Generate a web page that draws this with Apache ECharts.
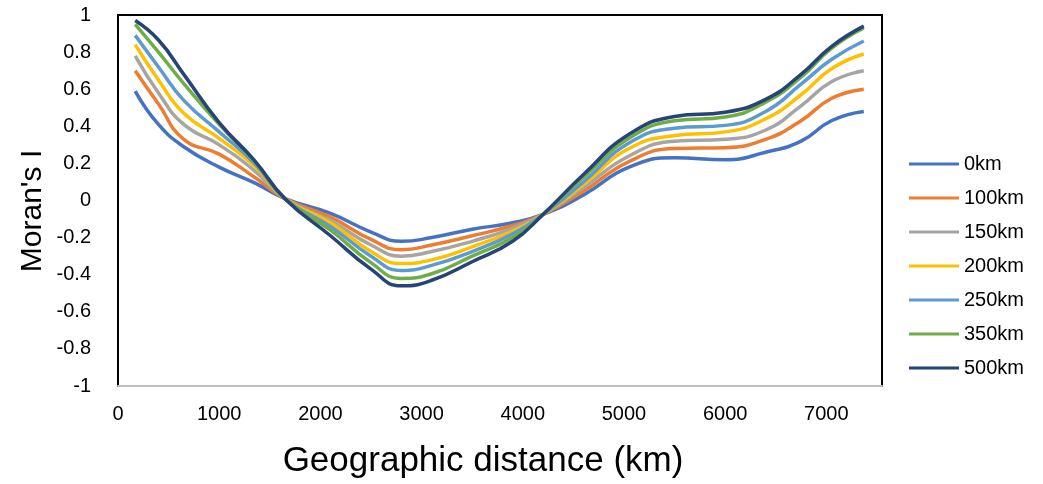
<!DOCTYPE html>
<html>
<head>
<meta charset="utf-8">
<script src="https://cdn.jsdelivr.net/npm/echarts@6/dist/echarts.min.js"></script>
<style>
  html, body { margin: 0; padding: 0; background: #fff; }
  #chart { width: 1043px; height: 484px; }
</style>
</head>
<body>
<div id="chart"></div>
<script>
// Geographic distance (km) at which Moran's I is sampled
const distances = [170, 400, 650, 1000, 1350, 1650, 2100, 2500, 2800, 3100, 3500, 3900, 4200, 4600, 5050, 5500, 6000, 6400, 6750, 7050, 7370];

// Moran's I for each neighbourhood threshold
const seriesNames = ['0km', '100km', '150km', '200km', '250km', '350km', '500km'];
const moran0   = [0.59, 0.41, 0.29, 0.18, 0.095, 0.01, -0.07, -0.17, -0.22, -0.20, -0.155, -0.12, -0.075, 0.03, 0.18, 0.23, 0.22, 0.26, 0.32, 0.43, 0.48];
const moran100 = [0.70, 0.52, 0.33, 0.25, 0.125, 0.01, -0.09, -0.21, -0.265, -0.24, -0.19, -0.135, -0.075, 0.05, 0.21, 0.28, 0.285, 0.33, 0.43, 0.55, 0.60];
const moran150 = [0.78, 0.58, 0.41, 0.30, 0.16, 0.01, -0.11, -0.24, -0.30, -0.275, -0.22, -0.15, -0.075, 0.07, 0.24, 0.32, 0.33, 0.38, 0.51, 0.64, 0.70];
const moran200 = [0.84, 0.65, 0.47, 0.335, 0.185, 0.01, -0.12, -0.275, -0.34, -0.32, -0.25, -0.165, -0.075, 0.085, 0.28, 0.35, 0.37, 0.44, 0.57, 0.71, 0.79];
const moran250 = [0.89, 0.72, 0.54, 0.37, 0.20, 0.01, -0.14, -0.30, -0.377, -0.35, -0.275, -0.18, -0.075, 0.10, 0.31, 0.39, 0.405, 0.48, 0.627, 0.76, 0.86];
const moran350 = [0.95, 0.80, 0.63, 0.41, 0.21, 0.01, -0.16, -0.335, -0.42, -0.395, -0.30, -0.20, -0.075, 0.125, 0.335, 0.43, 0.45, 0.53, 0.665, 0.82, 0.93];
const moran500 = [0.97, 0.865, 0.68, 0.42, 0.215, 0.01, -0.19, -0.37, -0.46, -0.43, -0.33, -0.22, -0.075, 0.14, 0.357, 0.453, 0.476, 0.545, 0.68, 0.83, 0.94];

const allValues = [moran0, moran100, moran150, moran200, moran250, moran350, moran500];
const colors = ['#4472C4', '#ED7D31', '#A5A5A5', '#FFC000', '#5B9BD5', '#70AD47', '#264478'];

const FONT = '"Liberation Sans", Arial, sans-serif';

const chart = echarts.init(document.getElementById('chart'), null, { renderer: 'canvas' });

const series = seriesNames.map((name, i) => ({
  name: name,
  type: 'line',
  smooth: 0.5,
  showSymbol: false,
  symbol: 'none',
  lineStyle: { color: colors[i], width: 3.5 },
  itemStyle: { color: colors[i] },
  data: distances.map((d, k) => [d, allValues[i][k]])
}));

chart.setOption({
  animation: false,
  backgroundColor: '#fff',
  grid: {
    left: 118, right: 161, top: 15, bottom: 98,
    show: true, borderColor: '#000', borderWidth: 2, backgroundColor: 'transparent'
  },
  xAxis: {
    type: 'value',
    min: 0, max: 7550, interval: 1000,
    axisLine: { show: true, onZero: false, lineStyle: { color: '#BFBFBF', width: 2 } },
    axisTick: { show: false },
    splitLine: { show: false },
    axisLabel: {
      margin: 18, color: '#000', fontSize: 20, fontFamily: FONT,
      formatter: v => (v % 1000 === 0 ? String(v) : '')
    }
  },
  yAxis: {
    type: 'value',
    min: -1, max: 1, interval: 0.2,
    axisLine: { show: false },
    axisTick: { show: false },
    splitLine: { show: false },
    axisLabel: {
      margin: 27, color: '#000', fontSize: 20, fontFamily: FONT,
      formatter: v => String(+v.toFixed(1))
    }
  },
  legend: {
    orient: 'vertical',
    left: 909, top: 154, padding: 0,
    itemWidth: 50, itemHeight: 3, itemGap: 14,
    icon: 'rect',
    textStyle: { color: '#000', fontSize: 20, fontFamily: FONT, lineHeight: 20 },
    data: seriesNames
  },
  graphic: [
    {
      type: 'text', x: 483, y: 461,
      style: { text: 'Geographic distance (km)', fill: '#000', font: '35px ' + FONT, textAlign: 'center', textVerticalAlign: 'middle' }
    },
    {
      type: 'text', x: 33, y: 211, rotation: Math.PI / 2,
      style: { text: "Moran's I", fill: '#000', font: '30px ' + FONT, textAlign: 'center', textVerticalAlign: 'middle' }
    }
  ],
  series: series
});
</script>
</body>
</html>
